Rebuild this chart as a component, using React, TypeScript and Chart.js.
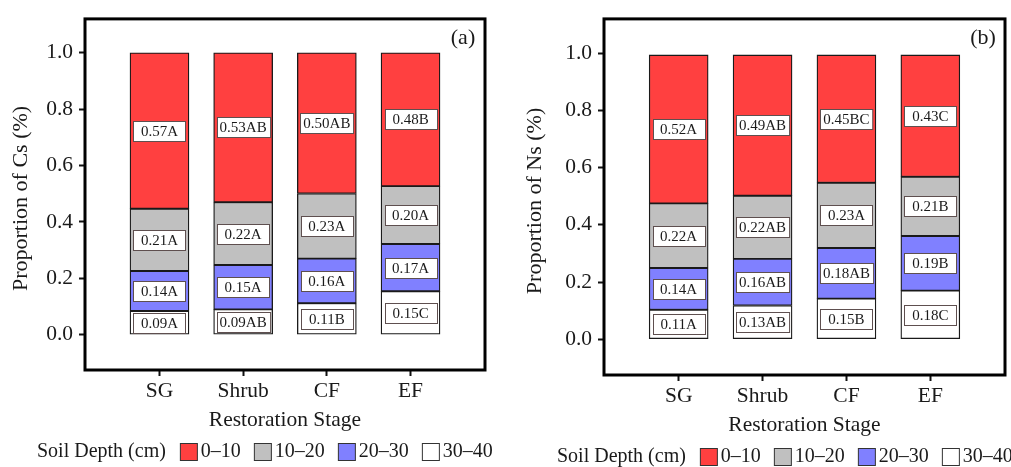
import React, { useEffect, useRef } from 'react';
import { Chart, registerables } from 'chart.js';

Chart.register(...registerables);

const categories = ['SG', 'Shrub', 'CF', 'EF'];
const depthLabels = ['0–10', '10–20', '20–30', '30–40'];
const depthColors = ['#FF4040', '#C0C0C0', '#8080FF', '#FFFFFF'];
const yTickValues = [0, 0.2, 0.4, 0.6, 0.8, 1.0];

// Panel (a): proportion of Cs by soil depth
const cs0_10 = [0.553, 0.530, 0.499, 0.473];
const cs10_20 = [0.221, 0.223, 0.231, 0.205];
const cs20_30 = [0.142, 0.157, 0.158, 0.168];
const cs30_40 = [0.084, 0.090, 0.112, 0.154];
const csText0_10 = ['0.57A', '0.53AB', '0.50AB', '0.48B'];
const csText10_20 = ['0.21A', '0.22A', '0.23A', '0.20A'];
const csText20_30 = ['0.14A', '0.15A', '0.16A', '0.17A'];
const csText30_40 = ['0.09A', '0.09AB', '0.11B', '0.15C'];

// Panel (b): proportion of Ns by soil depth
const ns0_10 = [0.519, 0.492, 0.447, 0.426];
const ns10_20 = [0.226, 0.221, 0.228, 0.207];
const ns20_30 = [0.146, 0.163, 0.177, 0.191];
const ns30_40 = [0.103, 0.118, 0.142, 0.170];
const nsText0_10 = ['0.52A', '0.49AB', '0.45BC', '0.43C'];
const nsText10_20 = ['0.22A', '0.22AB', '0.23A', '0.21B'];
const nsText20_30 = ['0.14A', '0.16AB', '0.18AB', '0.19B'];
const nsText30_40 = ['0.11A', '0.13AB', '0.15B', '0.18C'];

const FONT = '"Liberation Serif", "Times New Roman", Times, serif';
const TEXT = '#1a1a1a';

type Panel = {
  values: number[][]; // ordered 0-10, 10-20, 20-30, 30-40
  texts: string[][];
  yTitle: string;
  tag: string;
  width: number;
  padTop: number;
  padRight: number;
  yAxisWidth: number;
  xAxisHeight: number;
  yTitleX: number;
  legendX: number;
  legendY: number;
};

const panelA: Panel = {
  values: [cs0_10, cs10_20, cs20_30, cs30_40],
  texts: [csText0_10, csText10_20, csText20_30, csText30_40],
  yTitle: 'Proportion of Cs (%)',
  tag: '(a)',
  width: 505,
  padTop: 14,
  padRight: 20,
  yAxisWidth: 85,
  xAxisHeight: 97,
  yTitleX: 21,
  legendX: 37,
  legendY: 452,
};

const panelB: Panel = {
  values: [ns0_10, ns10_20, ns20_30, ns30_40],
  texts: [nsText0_10, nsText10_20, nsText20_30, nsText30_40],
  yTitle: 'Proportion of Ns (%)',
  tag: '(b)',
  width: 506,
  padTop: 16,
  padRight: 6,
  yAxisWidth: 99,
  xAxisHeight: 92,
  yTitleX: 30,
  legendX: 52,
  legendY: 457,
};

const segmentLabelPlugin = {
  id: 'segmentLabels',
  afterDatasetsDraw(chart: any) {
    const ctx = chart.ctx;
    ctx.save();
    ctx.font = `15px ${FONT}`;
    chart.data.datasets.forEach((ds: any, di: number) => {
      const meta = chart.getDatasetMeta(di);
      meta.data.forEach((el: any, i: number) => {
        const txt = ds.segTexts[i];
        const cx = el.x;
        const cy = (el.y + el.base) / 2;
        const w = Math.max(52, ctx.measureText(txt).width + 6);
        const h = 20;
        const x0 = Math.round(cx - w / 2) + 0.5;
        const y0 = Math.round(cy - h / 2) + 0.5;
        ctx.fillStyle = '#ffffff';
        ctx.fillRect(x0, y0, w, h);
        ctx.strokeStyle = '#5e4f4f';
        ctx.lineWidth = 1;
        ctx.strokeRect(x0, y0, w, h);
        ctx.fillStyle = TEXT;
        ctx.textAlign = 'center';
        ctx.textBaseline = 'middle';
        ctx.fillText(txt, cx, cy + 1);
      });
    });
    ctx.restore();
  },
};

const decorPlugin = {
  id: 'decor',
  afterDraw(chart: any) {
    const ctx = chart.ctx;
    const p: Panel = chart.options.plugins.decor.panel;
    const a = chart.chartArea;
    ctx.save();
    // frame
    ctx.strokeStyle = '#000';
    ctx.lineWidth = 3;
    ctx.strokeRect(a.left, a.top, a.right - a.left, a.bottom - a.top);
    // panel tag
    ctx.fillStyle = TEXT;
    ctx.font = `22px ${FONT}`;
    ctx.textAlign = 'center';
    ctx.textBaseline = 'middle';
    ctx.fillText(p.tag, a.right - 22, a.top + 19);
    // x title
    ctx.font = `21.5px ${FONT}`;
    ctx.fillText('Restoration Stage', (a.left + a.right) / 2, a.bottom + 50);
    // y title
    ctx.save();
    ctx.font = `22px ${FONT}`;
    ctx.translate(p.yTitleX, (a.top + a.bottom) / 2 + 4);
    ctx.rotate(-Math.PI / 2);
    ctx.fillText(p.yTitle, 0, 0);
    ctx.restore();
    // legend
    ctx.font = `20px ${FONT}`;
    ctx.textAlign = 'left';
    let x = p.legendX;
    const ly = p.legendY;
    const title = 'Soil Depth (cm)';
    ctx.fillText(title, x, ly);
    x += ctx.measureText(title).width + 14;
    depthLabels.forEach((lab, i) => {
      ctx.fillStyle = depthColors[i];
      ctx.fillRect(x + 0.5, ly - 8.5, 17, 17);
      ctx.strokeStyle = '#333';
      ctx.lineWidth = 1;
      ctx.strokeRect(x + 0.5, ly - 8.5, 17, 17);
      x += 17 + 4;
      ctx.fillStyle = TEXT;
      ctx.fillText(lab, x, ly);
      x += ctx.measureText(lab).width + 13;
    });
    ctx.restore();
  },
};

function PanelChart({ panel, left }: { panel: Panel; left: number }) {
  const ref = useRef<HTMLCanvasElement | null>(null);
  useEffect(() => {
    if (!ref.current) return;
    const order = [3, 2, 1, 0]; // bottom to top: 30-40, 20-30, 10-20, 0-10
    const datasets = order.map((k) => ({
      label: depthLabels[k],
      data: panel.values[k].map((v, i) => ({ x: i, y: v })),
      segTexts: panel.texts[k],
      backgroundColor: depthColors[k],
      borderColor: '#1a1a1a',
      borderWidth: 1.3,
      borderSkipped: false,
      barThickness: 59,
    }));
    const chart = new Chart(ref.current, {
      type: 'bar',
      data: { datasets } as any,
      options: {
        responsive: false,
        animation: false,
        devicePixelRatio: 1,
        layout: { padding: { left: 0, top: panel.padTop, right: panel.padRight, bottom: 0 } },
        plugins: {
          legend: { display: false },
          tooltip: { enabled: false },
          decor: { panel },
        } as any,
        scales: {
          x: {
            type: 'linear',
            stacked: true,
            min: -0.89,
            max: 3.89,
            offset: false,
            afterBuildTicks: (s: any) => {
              s.ticks = categories.map((_, i) => ({ value: i }));
            },
            afterFit: (s: any) => {
              s.height = panel.xAxisHeight;
            },
            ticks: {
              callback: (v: any) => categories[v] ?? '',
              color: TEXT,
              font: { family: FONT, size: 21.5 },
              padding: 2,
              maxRotation: 0,
              autoSkip: false,
            },
            grid: {
              display: true,
              drawOnChartArea: false,
              drawTicks: true,
              tickLength: 6,
              tickWidth: 2,
              tickColor: '#111',
              offset: false,
            },
            border: { display: false },
          },
          y: {
            type: 'linear',
            stacked: true,
            min: -0.125,
            max: 1.12,
            afterBuildTicks: (s: any) => {
              s.ticks = yTickValues.map((v) => ({ value: v }));
            },
            afterFit: (s: any) => {
              s.width = panel.yAxisWidth;
            },
            ticks: {
              callback: (v: any) => Number(v).toFixed(1),
              color: TEXT,
              font: { family: FONT, size: 21.5 },
              padding: 6,
            },
            grid: {
              display: true,
              drawOnChartArea: false,
              drawTicks: true,
              tickLength: 6,
              tickWidth: 2,
              tickColor: '#111',
            },
            border: { display: false },
          },
        } as any,
      },
      plugins: [segmentLabelPlugin, decorPlugin],
    } as any);
    return () => chart.destroy();
  }, [panel]);
  return (
    <canvas
      ref={ref}
      width={panel.width}
      height={467}
      style={{ position: 'absolute', left, top: 0, width: panel.width, height: 467, display: 'block' }}
    />
  );
}

export default function App() {
  return (
    <div style={{ position: 'fixed', left: 0, top: 0, width: 1011, height: 467, background: '#fff', overflow: 'hidden' }}>
      <PanelChart panel={panelA} left={0} />
      <PanelChart panel={panelB} left={505} />
    </div>
  );
}
